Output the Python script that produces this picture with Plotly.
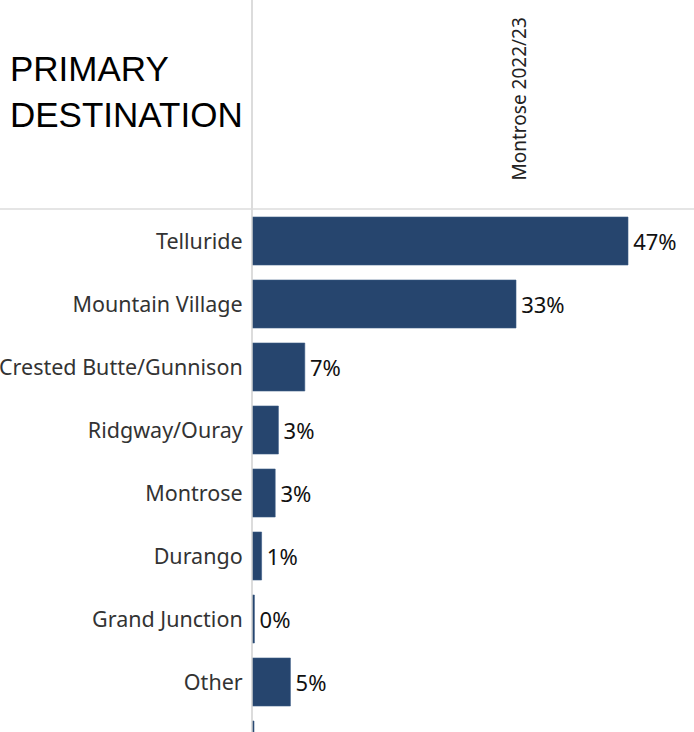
import plotly.graph_objects as go

categories = ["Telluride", "Mountain Village", "Crested Butte/Gunnison", "Ridgway/Ouray",
              "Montrose", "Durango", "Grand Junction", "Other", " "]
values = [47.0, 33.0, 6.6, 3.3, 2.9, 1.2, 0.3, 4.8, 0.25]
labels = ["47%", "33%", "7%", "3%", "3%", "1%", "0%", "5%", ""]
column_header = "Montrose 2022/23"
title_text = "PRIMARY<br>DESTINATION"

W, H = 694, 732
L, T = 252, 209
px_per_unit = 8.0
pitch = 63.0

fig = go.Figure()
fig.add_trace(go.Bar(
    x=values, y=categories, orientation="h",
    marker=dict(color="#26456E", line=dict(color="#3a5a85", width=0.6)),
    width=48 / pitch,
    text=labels, texttemplate="\u200a%{text}", textposition="outside", cliponaxis=False,
    textfont=dict(family="Noto Sans", size=22, color="#111111"),
    hoverinfo="skip",
))

xmax = (W - L) / px_per_unit
ytop = -(241 - T) / pitch
ybot = (H - 241) / pitch

fig.update_layout(
    width=W, height=H,
    margin=dict(l=L, r=0, t=T, b=0),
    paper_bgcolor="white", plot_bgcolor="white",
    showlegend=False,
    xaxis=dict(range=[0, xmax], visible=False, fixedrange=True),
    yaxis=dict(range=[ybot, ytop], showgrid=False, zeroline=False,
               showline=False, ticks="outside", ticklen=4, tickcolor="rgba(0,0,0,0)",
               tickfont=dict(family="Noto Sans", size=21.5, color="#333333"),
               fixedrange=True),
    shapes=[
        dict(type="line", xref="paper", yref="paper", x0=0, x1=0, y0=0, y1=1 + T / (H - T),
             line=dict(color="#d0d0d0", width=1.5)),
        dict(type="line", xref="paper", yref="paper", x0=-L / (W - L), x1=1, y0=1, y1=1,
             line=dict(color="#dcdcdc", width=1.5)),
    ],
    annotations=[
        dict(text=title_text, xref="paper", yref="paper",
             x=-(L - 8) / (W - L), y=1 + (T - 47) / (H - T), xanchor="left", yanchor="top",
             align="left", showarrow=False,
             font=dict(family="Liberation Sans", size=35, color="#000000")),
        dict(text=column_header, xref="paper", yref="paper",
             x=(518 - L) / (W - L), y=1 + (T - 183) / (H - T), xanchor="center", yanchor="bottom",
             textangle=-90, showarrow=False,
             font=dict(family="Noto Sans", size=19, color="#222222")),
    ],
)

fig.write_html("out.html")
